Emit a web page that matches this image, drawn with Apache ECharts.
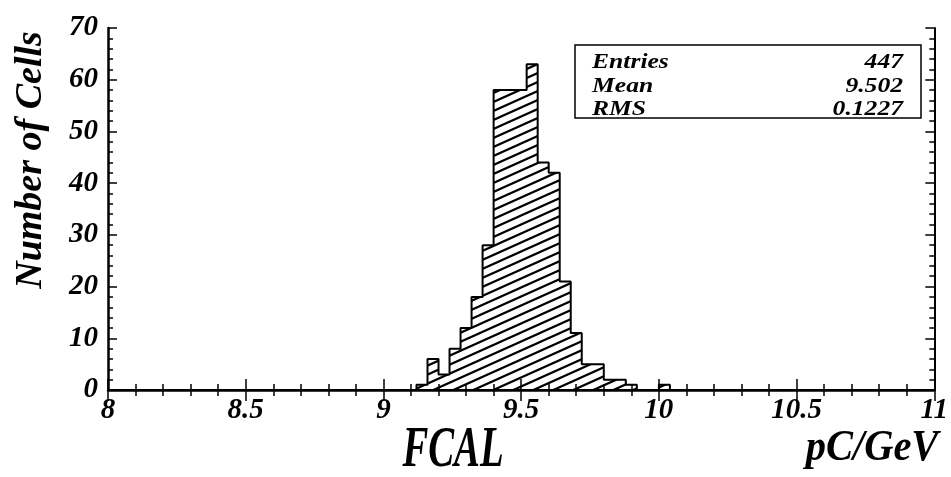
<!DOCTYPE html>
<html>
<head>
<meta charset="utf-8">
<script src="https://cdn.jsdelivr.net/npm/echarts@6/dist/echarts.min.js"></script>
<style>
  html, body { margin: 0; padding: 0; background: #fff; }
  #chart { width: 951px; height: 477px; }
</style>
</head>
<body>
<div id="chart"></div>
<script>
// FCAL calibration constant per cell, 0.04 pC/GeV bins from 8 to 11
const histMin = 8.0;
const histMax = 11.0;
const binWidth = 0.04;
// lower edges of the non-empty bins and their cell counts
const binLowEdges = [9.12, 9.16, 9.20, 9.24, 9.28, 9.32, 9.36, 9.40, 9.44, 9.48, 9.52,
                     9.56, 9.60, 9.64, 9.68, 9.72, 9.76, 9.80, 9.84, 9.88, 10.00];
const cellCounts  = [1, 6, 3, 8, 12, 18, 28, 58, 58, 58, 63,
                     44, 42, 21, 11, 5, 5, 2, 2, 1, 1];
const xTickLabels = { '8': '8', '8.5': '8.5', '9': '9', '9.5': '9.5', '10': '10', '10.5': '10.5', '11': '11' };
const statNames  = ['Entries', 'Mean', 'RMS'];
const statValues = ['447', '9.502', '0.1227'];

// step outline over the full range, one point per bin low edge
const nBins = Math.round((histMax - histMin) / binWidth);
const stepData = [];
for (let k = 0; k < nBins; k++) {
  const edge = +(histMin + k * binWidth).toFixed(2);
  const idx = binLowEdges.findIndex(e => Math.abs(e - edge) < 1e-6);
  stepData.push([edge, idx >= 0 ? cellCounts[idx] : 0]);
}
stepData.push([histMax, stepData[stepData.length - 1][1]]);

// diagonal hatch tile
function hatchPattern() {
  const W = 20, H = 9;
  const c = document.createElement('canvas');
  c.width = W; c.height = H;
  const g = c.getContext('2d');
  g.strokeStyle = '#000';
  g.lineWidth = 2.2;
  g.beginPath();
  for (let n = -1; n <= 1; n++) {
    g.moveTo(-W, 2 * H + n * H);
    g.lineTo(2 * W, -H + n * H);
  }
  g.stroke();
  return c;
}

const serif = "'Liberation Serif', 'Times New Roman', Times, serif";
const labelStyle = { fontFamily: serif, fontStyle: 'italic', fontWeight: 'bold', fontSize: 29, color: '#000' };
const axisLineStyle = { lineStyle: { color: '#000', width: 2.5 } };

const chart = echarts.init(document.getElementById('chart'), null, { renderer: 'canvas' });

const statsGraphics = [
  { type: 'rect', shape: { x: 575, y: 45, width: 346, height: 73 },
    style: { fill: '#fff', stroke: '#000', lineWidth: 1.5 }, z: 10 }
];
statNames.forEach((name, i) => {
  const y = 63 + i * 23.5;
  statsGraphics.push({ type: 'text', x: 592, y: y, scaleX: 1.28, z: 11,
    style: { text: name, font: 'italic bold 20px ' + serif, fill: '#000', textAlign: 'left', textVerticalAlign: 'middle' } });
  statsGraphics.push({ type: 'text', x: 903, y: y, scaleX: 1.28, z: 11,
    style: { text: statValues[i], font: 'italic bold 20px ' + serif, fill: '#000', textAlign: 'right', textVerticalAlign: 'middle' } });
});

chart.setOption({
  animation: false,
  backgroundColor: '#fff',
  grid: { left: 108, right: 10, top: 28, bottom: 87, containLabel: false },
  xAxis: [
    {
      type: 'value', min: histMin, max: histMax, interval: 0.5, position: 'bottom',
      axisLine: axisLineStyle,
      axisTick: { inside: true, length: 11, lineStyle: { color: '#000', width: 1.5 } },
      minorTick: { show: true, splitNumber: 5, length: 6, lineStyle: { color: '#000', width: 1.5 } },
      splitLine: { show: false },
      axisLabel: Object.assign({ margin: 6, formatter: v => xTickLabels[String(+v.toFixed(1))] || '' }, labelStyle)
    },
    {
      type: 'value', min: histMin, max: histMax, interval: 0.5, position: 'top',
      axisLine: { lineStyle: { color: '#000', width: 2 } },
      axisTick: { inside: true, length: 11, lineStyle: { color: '#000', width: 1.5 } },
      minorTick: { show: true, splitNumber: 5, length: 6, lineStyle: { color: '#000', width: 1.5 } },
      splitLine: { show: false },
      axisLabel: { show: false }
    }
  ],
  yAxis: [
    {
      type: 'value', min: 0, max: 70, interval: 10, position: 'left',
      axisLine: axisLineStyle,
      axisTick: { inside: true, length: 9, lineStyle: { color: '#000', width: 1.5 } },
      minorTick: { show: true, splitNumber: 5, length: 5, lineStyle: { color: '#000', width: 1.5 } },
      splitLine: { show: false },
      axisLabel: Object.assign({ margin: 10 }, labelStyle)
    },
    {
      type: 'value', min: 0, max: 70, interval: 10, position: 'right',
      axisLine: { lineStyle: { color: '#000', width: 2 } },
      axisTick: { inside: true, length: 9, lineStyle: { color: '#000', width: 1.5 } },
      minorTick: { show: true, splitNumber: 5, length: 5, lineStyle: { color: '#000', width: 1.5 } },
      splitLine: { show: false },
      axisLabel: { show: false }
    }
  ],
  series: [
    {
      type: 'line',
      xAxisIndex: 0, yAxisIndex: 0,
      data: stepData,
      step: 'end',
      symbol: 'none',
      silent: true,
      lineStyle: { color: '#000', width: 2 },
      areaStyle: { color: { image: hatchPattern(), repeat: 'repeat' }, opacity: 1 }
    }
  ],
  graphic: [
    { type: 'text', x: 31, y: 160, rotation: Math.PI / 2,
      style: { text: 'Number of Cells', font: 'italic bold 38px ' + serif, fill: '#000', textAlign: 'center', textVerticalAlign: 'middle' } },
    { type: 'text', x: 453, y: 451, scaleX: 0.68,
      style: { text: 'FCAL', font: 'italic bold 57px ' + serif, fill: '#000', textAlign: 'center', textVerticalAlign: 'middle' } },
    { type: 'text', x: 872, y: 449, scaleX: 0.92,
      style: { text: 'pC/GeV', font: 'italic bold 44px ' + serif, fill: '#000', textAlign: 'center', textVerticalAlign: 'middle' } }
  ].concat(statsGraphics)
});
</script>
</body>
</html>
